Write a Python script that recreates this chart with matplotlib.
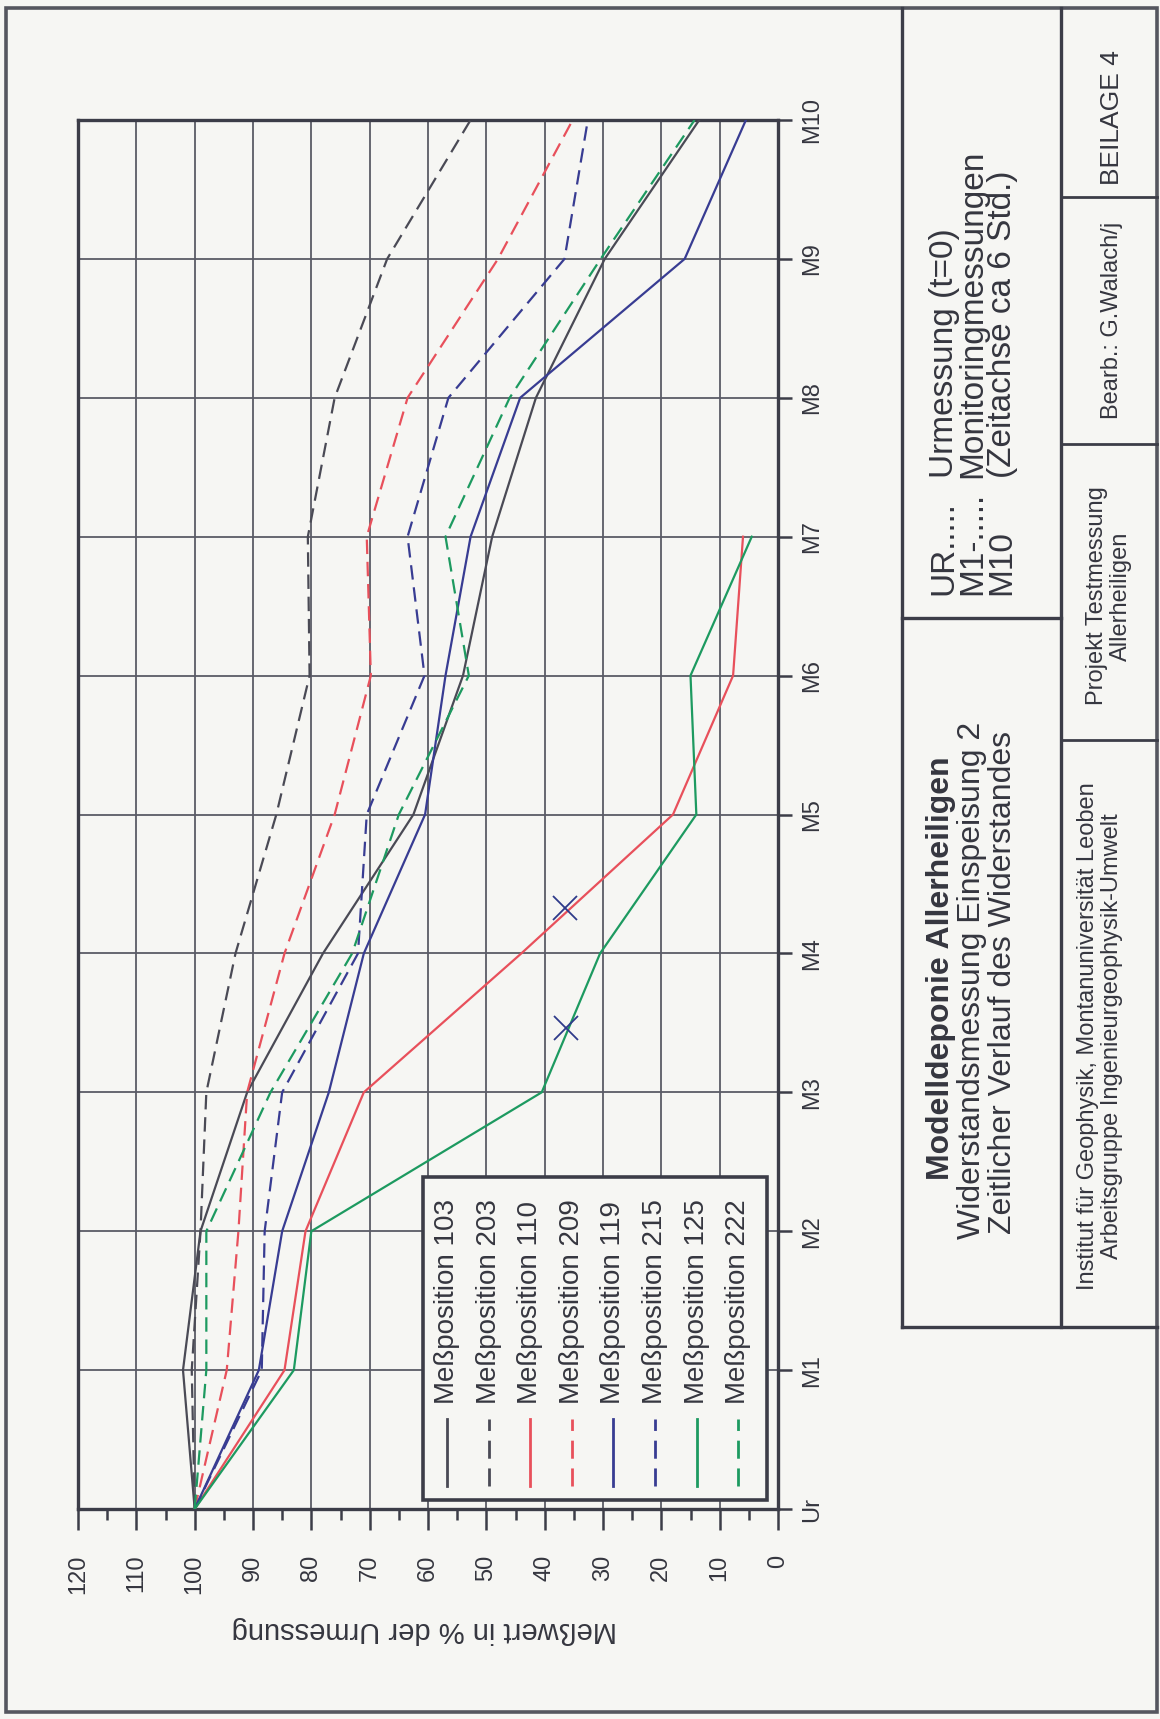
import numpy as np
import matplotlib
matplotlib.use("Agg")
import matplotlib.pyplot as plt
from matplotlib.lines import Line2D
from matplotlib.patches import Rectangle

W, H = 1160, 1719

CATEGORIES = ["Ur", "M1", "M2", "M3", "M4", "M5", "M6", "M7", "M8", "M9", "M10"]
VALUE_TICKS = list(range(0, 121, 10))

# Meßwert in % der Urmessung, one list per Meßposition (Ur .. M10)
POS_103 = [100, 102, 99, 91, 78, 62.5, 54, 49, 41.5, 29.7, 13.5]
POS_203 = [100, 100.5, 99, 98, 93, 86, 80.3, 80.6, 76, 67, 52.7]
POS_110 = [100, 84.6, 81, 71, 44, 18, 7.7, 6]
POS_209 = [100, 94.5, 92.5, 91, 84.6, 76, 69.8, 70.5, 63.5, 48, 35.2]
POS_119 = [100, 89, 85, 77, 71, 60.5, 57, 52.7, 44.2, 16, 5.5]
POS_215 = [100, 88.5, 88, 85, 72, 70.5, 60.6, 63.5, 56.5, 36.6, 32.6]
POS_125 = [100, 83, 80, 40.5, 30.5, 14, 15, 4.5]
POS_222 = [100, 98, 98, 87, 73, 65, 53, 57, 46, 30.4, 14.3]

# hand-drawn crosses
CROSS_VALUES = [36.5, 36.3]
CROSS_POS = [4.33, 3.46]

GRAY = "#4a4a55"
RED = "#e8505b"
BLUE = "#383c92"
GREEN = "#1d9a60"
FRAME = "#3c3d48"
GRID = "#5a5b66"
BG = "#f6f6f3"
TXT = "#35363f"

SERIES = [
    ("Meßposition 103", POS_103, GRAY, "solid"),
    ("Meßposition 203", POS_203, GRAY, "dashed"),
    ("Meßposition 110", POS_110, RED, "solid"),
    ("Meßposition 209", POS_209, RED, "dashed"),
    ("Meßposition 119", POS_119, BLUE, "solid"),
    ("Meßposition 215", POS_215, BLUE, "dashed"),
    ("Meßposition 125", POS_125, GREEN, "solid"),
    ("Meßposition 222", POS_222, GREEN, "dashed"),
]

DASH = (0, (6.5, 3.5))

plt.rcParams["font.family"] = ["Liberation Sans", "DejaVu Sans"]


def fx(px):
    return px / W


def fy(py):
    return 1 - py / H


def fig_line(fig, x0, y0, x1, y1, lw=2.4, color=FRAME):
    fig.add_artist(Line2D([fx(x0), fx(x1)], [fy(y0), fy(y1)],
                          transform=fig.transFigure, lw=lw, color=color,
                          solid_capstyle="projecting"))


def vtext(fig, x, y, s, size, va="center", **kw):
    # text turned 90 degrees, reading upward
    fig.text(fx(x), fy(y), s, rotation=90, ha="center", va=va,
             fontsize=size, color=TXT, **kw)


def main():
    fig = plt.figure(figsize=(W / 100, H / 100), dpi=100)
    fig.patch.set_facecolor(BG)

    # plot area (page is turned: values run right->left, time runs upward)
    ax = fig.add_axes([fx(78), fy(1509), fx(778) - fx(78), fy(120) - fy(1509)])
    ax.set_facecolor(BG)

    for label, vals, color, ls in SERIES:
        ax.plot(vals, np.arange(len(vals)), color=color,
                linestyle=DASH if ls == "dashed" else "-", lw=1.6, zorder=3)

    ax.plot(CROSS_VALUES, CROSS_POS, linestyle="none", marker="x",
            markersize=17, mew=1.3, color="#2e3a8a", zorder=4)

    ax.set_xlim(120, 0)
    ax.set_ylim(0, 10)
    ax.set_xticks(VALUE_TICKS)
    ax.set_xticks(np.arange(5, 120, 10), minor=True)
    ax.set_xticklabels([str(v) for v in VALUE_TICKS], rotation=90, fontsize=17,
                       color=TXT)
    ax.yaxis.tick_right()
    ax.set_yticks(range(len(CATEGORIES)))
    ax.set_yticklabels(CATEGORIES, rotation=90, fontsize=17, va="center",
                       ha="left", color=TXT)

    ax.tick_params(axis="x", which="major", length=15, width=1.8, pad=18,
                   color=FRAME, direction="out")
    ax.tick_params(axis="x", which="minor", length=8, width=1.8,
                   color=FRAME, direction="out")
    ax.tick_params(axis="y", which="major", length=10, width=1.8, pad=7,
                   color=FRAME, direction="out")

    ax.grid(True, which="major", color=GRID, lw=1.3)
    ax.set_axisbelow(True)
    for spine in ax.spines.values():
        spine.set_color(FRAME)
        spine.set_linewidth(2.4)

    fig.text(fx(424), fy(1630), "Meßwert in % der Urmessung", rotation=180,
             ha="center", va="center", fontsize=21, color=TXT)

    # legend box
    fig.add_artist(Rectangle((fx(423), fy(1500)), fx(767) - fx(423),
                             fy(1177) - fy(1500), transform=fig.transFigure,
                             facecolor=BG, edgecolor=FRAME, lw=2.6, zorder=5))
    for i, (label, vals, color, ls) in enumerate(SERIES):
        x = 447 + i * 41.6
        fig.add_artist(Line2D([fx(x), fx(x)], [fy(1486), fy(1419)],
                              transform=fig.transFigure, color=color, lw=2.0,
                              linestyle=DASH if ls == "dashed" else "-", zorder=6))
        fig.text(fx(x), fy(1404), label, rotation=90, ha="center", va="bottom",
                 fontsize=20, color=TXT, zorder=6)

    # page border
    fig.add_artist(Rectangle((fx(6), fy(1712)), fx(1157) - fx(6), fy(8) - fy(1712),
                             transform=fig.transFigure, fill=False,
                             edgecolor="#55565f", lw=2.6))

    # title block
    fig_line(fig, 902, 8, 902, 1327)
    fig_line(fig, 1061, 8, 1061, 1327)
    fig_line(fig, 902, 1327, 1157, 1327)
    fig_line(fig, 902, 618, 1061, 618)
    for yy in [197, 444, 740]:
        fig_line(fig, 1061, yy, 1157, yy, lw=2.0)

    vtext(fig, 941, 968, "Modelldeponie Allerheiligen", 23, fontweight="bold")
    vtext(fig, 972, 980, "Widerstandsmessung Einspeisung 2", 23)
    vtext(fig, 1003, 982, "Zeitlicher Verlauf des Widerstandes", 23)

    rows = [("UR.....", "Urmessung (t=0)"),
            ("M1-.....", "Monitoringmessungen"),
            ("M10", "(Zeitachse ca 6 Std.)")]
    for k, (left, right) in enumerate(rows):
        x = 944 + k * 29
        vtext(fig, x, 595, left, 24, va="bottom")
        vtext(fig, x, 478, right, 24, va="bottom")

    vtext(fig, 1112, 118, "BEILAGE 4", 19)
    vtext(fig, 1112, 320, "Bearb.: G.Walach/j", 17)
    fig.text(fx(1109), fy(596), "Projekt Testmessung\nAllerheiligen", rotation=90,
             ha="center", va="center", ma="center", fontsize=17, color=TXT,
             linespacing=1.1)
    fig.text(fx(1100), fy(1036),
             "Institut für Geophysik, Montanuniversität Leoben\n"
             "Arbeitsgruppe Ingenieurgeophysik-Umwelt",
             rotation=90, ha="center", va="center", ma="center", fontsize=17,
             color=TXT, linespacing=1.15)

    fig.savefig("out.png", dpi=100, facecolor=BG)
    plt.close(fig)


if __name__ == "__main__":
    main()
